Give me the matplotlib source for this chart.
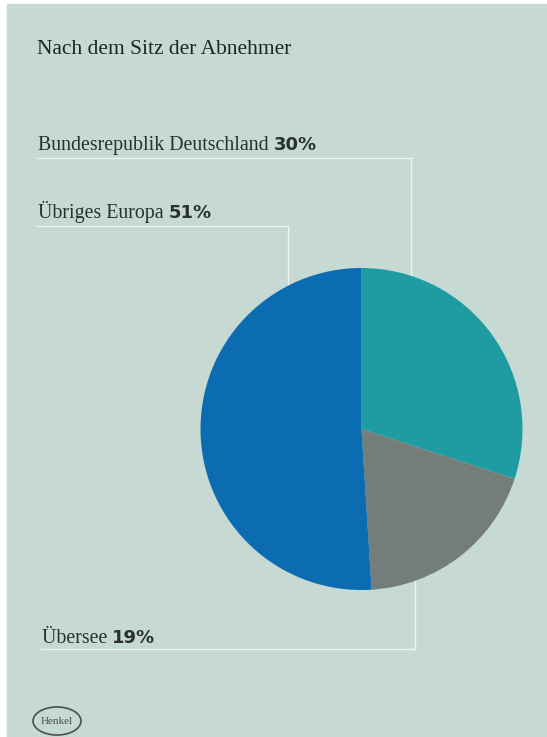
import matplotlib.pyplot as plt
from matplotlib.patches import Rectangle, Ellipse

# data
labels = ['Bundesrepublik Deutschland', 'Übersee', 'Übriges Europa']
shares = [30, 19, 51]
colors = ['#1f9ca2', '#737d79', '#0c6cb2']

W, H = 547, 737
fig = plt.figure(figsize=(W / 100, H / 100), dpi=100)
ax = fig.add_axes([0, 0, 1, 1])

def py(y):
    # pixel row from top -> axes y
    return H - y

# background panel
ax.add_patch(Rectangle((7, 0), W - 7, H - 4, color='#c6d9d2', zorder=0))

# pie
cx, cy, r = 361.5, 429, 161
wedges, _ = ax.pie(shares, colors=colors, startangle=90, counterclock=False,
                   center=(cx, py(cy)), radius=r, frame=True,
                   wedgeprops=dict(linewidth=0))
for w in wedges:
    w.set_zorder(2)
ax.set_xlim(0, W)
ax.set_ylim(0, H)
ax.set_aspect('auto')
ax.axis('off')

serif = 'Liberation Serif'
lc = '#eef4f1'
lw = 1.0

# title
ax.text(37, py(54), 'Nach dem Sitz der Abnehmer', family=serif,
        fontsize=15.5, color='#1e2422', va='baseline')

# leader lines and labels
# (label text, pct, text x, text baseline, line y, vertical x, vertical end y)
lab_pos = [
    (labels[0], shares[0], 38, 150, 158, 411, 400),
    (labels[2], shares[2], 38, 218, 226, 288, 400),
    (labels[1], shares[1], 42, 643, 649, 415, 480),
]
for name, pct, tx, ty, ly, vx, vy in lab_pos:
    t = ax.text(tx, py(ty), name + ' ', family=serif, fontsize=14.3,
                color='#2a302e', va='baseline')
    fig.canvas.draw()
    bb = t.get_window_extent()
    ax.text(bb.x1, py(ty), f'{pct}%', family='DejaVu Sans', fontsize=13,
            fontweight='bold', color='#2a302e', va='baseline')
    ax.plot([tx - 1, vx], [py(ly), py(ly)], color=lc, lw=lw, zorder=1)
    ax.plot([vx, vx], [py(ly), py(vy)], color=lc, lw=lw, zorder=1)

# logo
ax.add_patch(Ellipse((57, py(721)), 48, 28, fill=False, ec='#4a504e', lw=1.2))
ax.text(57, py(721), 'Henkel', family=serif, fontsize=8, color='#4a504e',
        ha='center', va='center')

fig.savefig('out.png', dpi=100)
